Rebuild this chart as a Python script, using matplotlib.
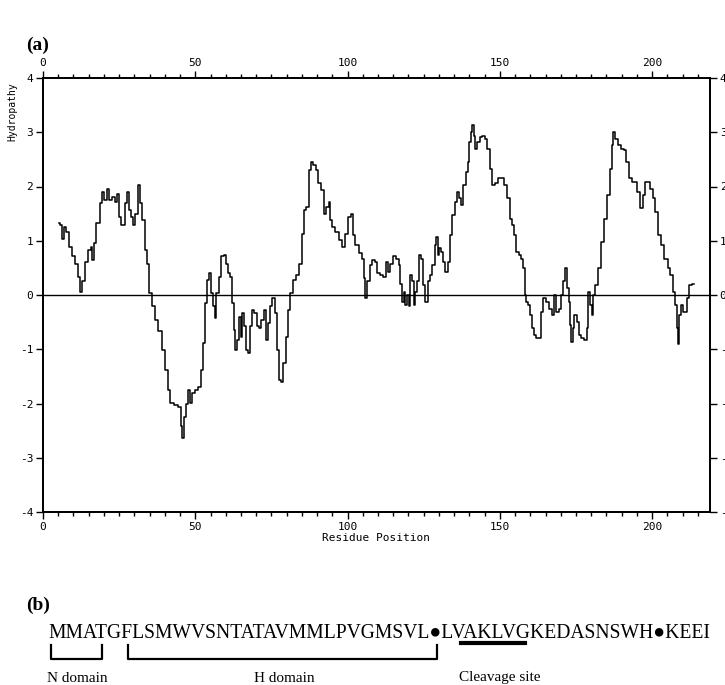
import numpy as np
import matplotlib.pyplot as plt
from matplotlib.ticker import MultipleLocator
from matplotlib.lines import Line2D

plt.rcParams['axes.unicode_minus'] = False

# hydropathy profile (Kyte-Doolittle style window average)
residue = [
    5.4, 5.8, 6.6, 7.4, 8.0, 8.9, 9.9, 11.0, 11.9, 12.7, 13.2, 14.3, 15.4, 15.9, 16.5, 17.0,
    18.1, 19.2, 19.8, 20.3, 21.4, 22.2, 23.1, 23.9, 24.7, 25.2, 25.8, 26.6, 27.2, 27.8, 28.5,
    29.1, 29.8, 30.7, 31.6, 32.3, 32.9, 33.8, 34.5, 35.3, 36.2, 37.3, 38.4, 39.5, 40.6, 41.4,
    42.2, 43.8, 45.1, 45.5, 46.0, 46.6, 47.1, 48.0, 48.8, 49.3, 50.4, 51.5, 52.0, 52.8, 53.4,
    54.2, 55.0, 55.5, 56.1, 56.6, 57.3, 58.0, 58.9, 59.7, 60.4, 61.1, 61.8, 62.4, 62.9, 63.5,
    64.0, 64.6, 65.1, 65.7, 66.2, 66.8, 67.6, 68.1, 68.9, 69.8, 70.6, 71.4, 72.0, 72.8, 73.5,
    74.2, 75.0, 75.7, 76.4, 77.2, 77.9, 78.6, 79.3, 80.1, 81.0, 81.5, 82.6, 83.7, 84.5, 85.4,
    85.9, 87.0, 87.8, 88.4, 89.2, 89.9, 90.8, 91.7, 92.5, 93.5, 94.1, 94.6, 95.4, 96.5, 97.6,
    98.5, 99.6, 100.7, 101.5, 102.1, 103.1, 104.5, 105.3, 105.6, 105.9, 106.7, 107.8, 108.5,
    109.2, 110.0, 111.0, 112.1, 112.9, 113.6, 114.3, 115.4, 116.5, 117.0, 117.6, 118.1, 118.7,
    119.2, 119.8, 120.3, 120.9, 121.4, 122.0, 122.5, 123.1, 123.8, 124.5, 125.2, 125.9, 126.7,
    127.4, 128.2, 128.9, 129.4, 129.9, 130.4, 131.0, 131.8, 132.5, 133.2, 134.0, 134.8, 135.6,
    136.3, 137.0, 137.6, 138.4, 139.1, 139.8, 140.2, 140.7, 141.1, 141.6, 142.2, 143.0, 143.8,
    144.6, 145.4, 146.3, 147.1, 147.8, 148.7, 149.8, 150.9, 151.9, 152.8, 153.6, 154.1, 154.9,
    155.8, 156.6, 157.4, 157.9, 158.5, 159.0, 159.7, 160.2, 161.0, 161.6, 162.4, 163.2, 163.8,
    164.6, 165.6, 166.8, 167.5, 168.2, 169.0, 169.7, 170.4, 171.2, 171.7, 172.3, 172.8, 173.2,
    173.6, 174.2, 174.8, 175.6, 176.3, 177.2, 178.3, 178.8, 179.3, 179.9, 180.4, 181.0, 181.8,
    182.6, 183.7, 184.8, 185.7, 186.5, 187.0, 187.6, 188.3, 189.2, 190.3, 191.2, 191.9, 192.7,
    193.8, 194.6, 195.7, 196.6, 197.4, 198.2, 199.0, 199.9, 200.7, 201.4, 202.3, 203.4, 204.5,
    205.6, 206.4, 207.2, 207.8, 208.3, 208.6, 209.1, 209.6, 210.4, 211.2, 211.8, 212.3, 213.7,
]
hydropathy = [
    1.33, 1.29, 1.04, 1.25, 1.17, 0.89, 0.71, 0.58, 0.34, 0.06, 0.25, 0.61, 0.83, 0.89, 0.64, 0.95,
    1.32, 1.69, 1.90, 1.75, 1.96, 1.75, 1.81, 1.72, 1.87, 1.44, 1.29, 1.29, 1.69, 1.90, 1.56,
    1.44, 1.29, 1.50, 2.02, 1.69, 1.38, 0.83, 0.58, 0.03, -0.21, -0.46, -0.67, -1.01, -1.38, -1.75,
    -1.99, -2.02, -2.06, -2.42, -2.63, -2.24, -2.00, -1.75, -1.99, -1.81, -1.75, -1.69, -1.38, -0.89, -0.15,
    0.28, 0.40, 0.03, -0.21, -0.43, 0.03, 0.34, 0.71, 0.74, 0.58, 0.40, 0.34, -0.15, -0.64, -1.01,
    -0.83, -0.40, -0.77, -0.34, -0.58, -1.01, -1.07, -0.58, -0.28, -0.34, -0.58, -0.61, -0.46, -0.28, -0.83,
    -0.52, -0.21, -0.06, -0.34, -1.01, -1.56, -1.60, -1.26, -0.77, -0.28, 0.03, 0.28, 0.37, 0.58, 1.13,
    1.56, 1.63, 2.30, 2.45, 2.39, 2.30, 2.06, 1.93, 1.50, 1.63, 1.72, 1.38, 1.26, 1.17, 1.01,
    0.89, 1.13, 1.44, 1.50, 1.10, 0.92, 0.77, 0.67, 0.31, -0.06, 0.25, 0.55, 0.64,
    0.61, 0.40, 0.37, 0.34, 0.61, 0.43, 0.58, 0.71, 0.67, 0.55, 0.21, -0.12, 0.06,
    -0.18, 0.00, -0.21, 0.37, 0.25, -0.18, 0.06, 0.25, 0.74, 0.67, 0.18, -0.12, 0.25,
    0.37, 0.55, 0.92, 1.07, 0.74, 0.86, 0.80, 0.61, 0.43, 0.61, 1.10, 1.47, 1.72,
    1.90, 1.78, 1.66, 2.02, 2.27, 2.45, 2.82, 3.01, 3.13, 2.94, 2.70, 2.82, 2.91,
    2.94, 2.88, 2.70, 2.33, 2.02, 2.06, 2.15, 2.15, 2.02, 1.78, 1.41, 1.29, 1.10,
    0.80, 0.74, 0.67, 0.49, 0.00, -0.12, -0.18, -0.37, -0.61, -0.74, -0.80, -0.80, -0.31,
    -0.06, -0.12, -0.25, -0.37, 0.00, -0.31, -0.25, 0.00, 0.25, 0.49, 0.12, -0.12, -0.55,
    -0.86, -0.61, -0.37, -0.49, -0.74, -0.80, -0.83, -0.61, 0.06, -0.18, -0.37, 0.00, 0.18,
    0.49, 0.98, 1.41, 1.84, 2.33, 2.76, 3.01, 2.88, 2.76, 2.70, 2.67, 2.45, 2.15,
    2.09, 2.09, 1.90, 1.60, 1.84, 2.09, 2.09, 1.96, 1.78, 1.53, 1.10, 0.92, 0.67,
    0.49, 0.37, 0.06, -0.18, -0.61, -0.90, -0.37, -0.18, -0.31, -0.31, -0.06, 0.18, 0.21,
]

x_ticks = [0, 50, 100, 150, 200]
y_ticks = [4, 3, 2, 1, 0, -1, -2, -3, -4]
# right-hand labels run off the page edge; only the sign of the negatives shows
y_right_labels = ['4', '3', '2', '1', '0', '-', '-', '-', '-']

sequence = 'MMATGFLSMWVSNTATAVMMLPVGMSVL\u25cfLVAKLVGKEDASNSWH\u25cfKEEI'
domain_labels = ['N domain', 'H domain', 'Cleavage site']

W, H = 725, 685
fig = plt.figure(figsize=(W / 100, H / 100), dpi=100)

def px(x, y):
    # pixel position -> figure fraction
    return x / W, 1 - y / H

mono = 'DejaVu Sans Mono'
serif = ['Liberation Serif', 'DejaVu Serif']

ax = fig.add_axes([43 / W, 1 - 512 / H, (710 - 43) / W, (512 - 78) / H])
ax.plot(residue, hydropathy, color='black', lw=1.1, drawstyle='steps-mid')
ax.axhline(0, color='black', lw=1.0)
ax.set_xlim(0, 219)
ax.set_ylim(-4, 4)

ax.set_xticks(x_ticks)
ax.xaxis.set_minor_locator(MultipleLocator(5))
ax.set_yticks(y_ticks)
ax.tick_params(axis='both', which='major', length=5, width=1, labelsize=8,
               top=True, labeltop=True, direction='out', pad=2)
ax.tick_params(axis='both', which='minor', length=3, width=1, top=True, direction='out')
for lab in ax.get_xticklabels() + ax.get_yticklabels():
    lab.set_family(mono)
for sp in ax.spines.values():
    sp.set_linewidth(1.3)

ax_r = ax.twinx()
ax_r.set_ylim(-4, 4)
ax_r.set_yticks(y_ticks)
ax_r.set_yticklabels(y_right_labels, family=mono, fontsize=8)
ax_r.tick_params(axis='y', length=5, width=1, pad=2)
for sp in ax_r.spines.values():
    sp.set_linewidth(1.3)

ax.set_xlabel('Residue Position', family=mono, fontsize=8, labelpad=1)
fig.text(*px(12, 112), 'Hydropathy', rotation=90, family=mono, fontsize=7,
         ha='center', va='center')

# panel letters
fig.text(*px(26, 45), '(a)', family=serif, fontsize=14, fontweight='bold', va='center')
fig.text(*px(26, 605), '(b)', family=serif, fontsize=14, fontweight='bold', va='center')

# signal peptide sequence and domain brackets
fig.text(*px(48, 634), sequence, family=serif, fontsize=14.1, va='center')

def bracket(x0, x1, ytop, ybot):
    xs = [x0, x0, x1, x1]
    ys = [ytop, ybot, ybot, ytop]
    fig.add_artist(Line2D([x / W for x in xs], [1 - y / H for y in ys],
                          color='black', lw=1.6))

bracket(51, 102, 645, 659)
bracket(128, 437, 645, 659)
fig.add_artist(Line2D([461 / W, 525 / W], [1 - 643 / H] * 2, color='black', lw=3))

fig.text(*px(77, 678), domain_labels[0], family=serif, fontsize=11, ha='center', va='center')
fig.text(*px(284, 678), domain_labels[1], family=serif, fontsize=11, ha='center', va='center')
fig.text(*px(500, 678), domain_labels[2], family=serif, fontsize=11, ha='center', va='center')

fig.savefig('out.png', dpi=100)
